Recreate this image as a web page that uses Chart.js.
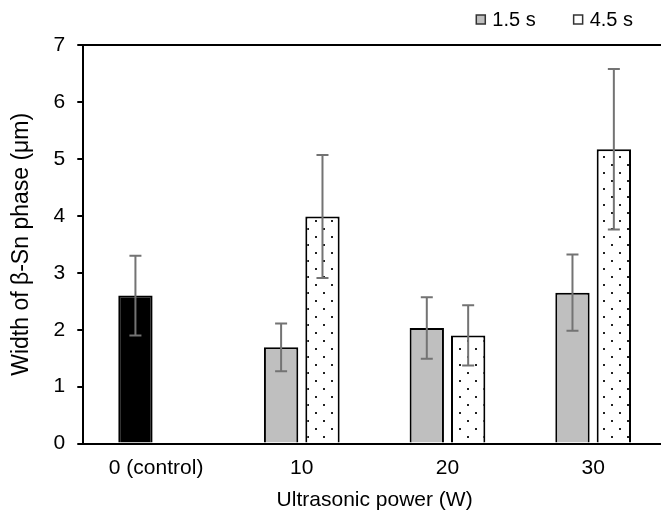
<!DOCTYPE html>
<html>
<head>
<meta charset="utf-8">
<title>Width of β-Sn phase</title>
<script src="https://cdn.jsdelivr.net/npm/chart.js@4"></script>
<style>
    html, body { margin: 0; padding: 0; background: #fff; overflow: hidden; }
    #wrap { width: 667px; height: 515px; }
</style>
</head>
<body>
<div id="wrap"><canvas id="widthChart"></canvas></div>
<script>
// Chart data
const categories = ['0 (control)', '10', '20', '30'];
const controlValue = 2.60;
const controlError = 0.70;
const shortValues = [null, 1.69, 2.03, 2.65];   // 1.5 s
const shortErrors = [null, 0.42, 0.54, 0.67];
const longValues = [null, 3.99, 1.90, 5.17];    // 4.5 s
const longErrors = [null, 1.08, 0.53, 1.41];
const yTicks = [0, 1, 2, 3, 4, 5, 6, 7];
const seriesNames = ['1.5 s', '4.5 s'];

const FONT = 'Liberation Sans, Arial, sans-serif';
const GRAY = '#bfbfbf';

// First dataset carries the control bar in the first slot
const firstValues = shortValues.map((v, i) => i === 0 ? controlValue : v);
const firstErrors = shortErrors.map((v, i) => i === 0 ? controlError : v);

// Dotted fill for the 4.5 s bars
function makeDotPattern() {
    const c = document.createElement('canvas');
    c.width = 16;
    c.height = 16;
    const g = c.getContext('2d');
    g.fillStyle = '#fff';
    g.fillRect(0, 0, 16, 16);
    g.fillStyle = '#222';
    g.fillRect(3, 4, 2, 2);
    g.fillRect(11, 12, 2, 2);
    return g.createPattern(c, 'repeat');
}

// Draw the error bars on top of the bars
const errorBars = {
    id: 'errorBars',
    afterDatasetsDraw(chart) {
        const ctx = chart.ctx;
        const yScale = chart.scales.y;
        const errs = [firstErrors, longErrors];
        ctx.save();
        ctx.strokeStyle = '#737373';
        ctx.lineWidth = 2;
        chart.data.datasets.forEach((ds, di) => {
            const meta = chart.getDatasetMeta(di);
            meta.data.forEach((bar, i) => {
                const v = ds.data[i];
                const e = errs[di][i];
                if (v == null || e == null) return;
                const top = yScale.getPixelForValue(v + e);
                const bottom = yScale.getPixelForValue(v - e);
                ctx.beginPath();
                ctx.moveTo(bar.x, top);
                ctx.lineTo(bar.x, bottom);
                ctx.moveTo(bar.x - 6, top);
                ctx.lineTo(bar.x + 6, top);
                ctx.moveTo(bar.x - 6, bottom);
                ctx.lineTo(bar.x + 6, bottom);
                ctx.stroke();
            });
        });
        ctx.restore();
    }
};

// Small legend in the top right corner, Excel style
const cornerLegend = {
    id: 'cornerLegend',
    afterDraw(chart) {
        const ctx = chart.ctx;
        const fills = [GRAY, '#fff'];
        const y = 20;
        ctx.save();
        ctx.font = '20px ' + FONT;
        ctx.textBaseline = 'middle';
        let x = chart.chartArea.right - 33;
        for (let i = seriesNames.length - 1; i >= 0; i--) {
            const w = ctx.measureText(seriesNames[i]).width;
            const textX = x - w;
            const boxX = textX - 16;
            ctx.fillStyle = fills[i];
            ctx.fillRect(boxX, y - 5, 9, 9);
            ctx.strokeStyle = '#333';
            ctx.lineWidth = 1.5;
            ctx.strokeRect(boxX, y - 5, 9, 9);
            ctx.fillStyle = '#000';
            ctx.fillText(seriesNames[i], textX, y);
            x = boxX - 38;
        }
        ctx.restore();
    }
};

const ctx = document.getElementById('widthChart').getContext('2d');
const dots = makeDotPattern();

new Chart(ctx, {
    type: 'bar',
    data: {
        labels: categories,
        datasets: [{
            label: seriesNames[0],
            data: firstValues,
            backgroundColor: firstValues.map((v, i) => i === 0 ? '#000' : GRAY),
            borderColor: '#000',
            borderWidth: 2,
            categoryPercentage: 0.568,
            barPercentage: 0.83
        }, {
            label: seriesNames[1],
            data: longValues,
            backgroundColor: dots,
            borderColor: '#000',
            borderWidth: 2,
            categoryPercentage: 0.568,
            barPercentage: 0.83
        }]
    },
    options: {
        responsive: true,
        maintainAspectRatio: false,
        animation: false,
        layout: { padding: { left: 8, right: 1, top: 45, bottom: 2 } },
        plugins: {
            tooltip: { enabled: false },
            legend: { display: false }
        },
        scales: {
            x: {
                grid: { display: false, tickLength: 8 },
                border: { display: true, color: '#000', width: 2 },
                ticks: { color: '#000', font: { family: FONT, size: 21 }, padding: 4 },
                title: {
                    display: true,
                    text: 'Ultrasonic power (W)',
                    color: '#000',
                    font: { family: FONT, size: 21 },
                    padding: { top: 3, bottom: 0 }
                }
            },
            y: {
                min: 0,
                max: 7,
                afterBuildTicks: axis => { axis.ticks = yTicks.map(v => ({ value: v })); },
                grid: {
                    drawOnChartArea: true,
                    color: c => c.tick && c.tick.value === 7 ? '#000' : 'rgba(0,0,0,0)',
                    lineWidth: 2,
                    tickColor: '#000',
                    tickLength: 6
                },
                border: { display: true, color: '#000', width: 2 },
                ticks: { color: '#000', font: { family: FONT, size: 21 }, padding: 12 },
                title: {
                    display: true,
                    text: 'Width of β-Sn phase (μm)',
                    color: '#000',
                    font: { family: FONT, size: 23 },
                    padding: { top: 0, bottom: 6 }
                }
            }
        }
    },
    plugins: [errorBars, cornerLegend]
});
</script>
</body>
</html>
